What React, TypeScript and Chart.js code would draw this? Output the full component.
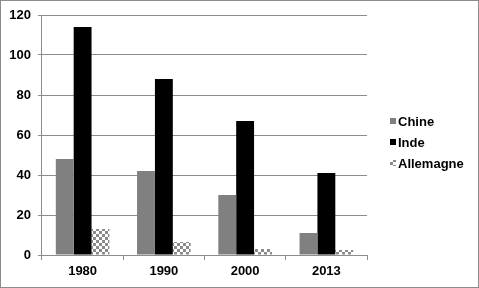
import React, { useEffect, useRef } from "react";
import { Chart, registerables } from "chart.js";

Chart.register(...registerables);

const categories = ["1980", "1990", "2000", "2013"];
const chine = [48, 42, 30, 11];
const inde = [114, 88, 67, 41];
const allemagne = [13, 6.5, 3, 2.5];
const yTicks = [0, 20, 40, 60, 80, 100, 120];

const FONT_FAMILY = "'Liberation Sans', Arial, sans-serif";

function makePattern(): CanvasPattern | string {
  const c = document.createElement("canvas");
  c.width = 6;
  c.height = 6;
  const ctx = c.getContext("2d");
  if (!ctx) return "#999";
  ctx.fillStyle = "#ffffff";
  ctx.fillRect(0, 0, 6, 6);
  ctx.fillStyle = "#8a8a8a";
  ctx.fillRect(0, 0, 3, 3);
  ctx.fillRect(3, 3, 3, 3);
  const p = ctx.createPattern(c, "repeat");
  return p || "#999";
}

export default function App() {
  const ref = useRef<HTMLCanvasElement>(null);
  useEffect(() => {
    document.body.style.margin = "0";
    if (!ref.current) return;
    const pattern = makePattern();
    const borderPlugin = {
      id: "outerBorder",
      afterDraw(chart: any) {
        const ctx = chart.ctx;
        ctx.save();
        ctx.strokeStyle = "#8c8c8c";
        ctx.lineWidth = 1;
        ctx.strokeRect(0.5, 0.5, chart.width - 1, chart.height - 1);
        ctx.restore();
      },
    };
    const legendPlugin = {
      id: "sideLegend",
      afterDraw(chart: any) {
        const ctx = chart.ctx;
        const area = chart.chartArea;
        const sets = chart.data.datasets;
        const x = area.right + 23;
        const midY = chart.height / 2 - 2;
        ctx.save();
        ctx.font = `bold 13px ${FONT_FAMILY}`;
        ctx.textBaseline = "middle";
        ctx.textAlign = "left";
        sets.forEach((ds: any, i: number) => {
          const y = midY + (i - (sets.length - 1) / 2) * 21;
          ctx.fillStyle = ds.backgroundColor;
          ctx.fillRect(x, y - 3, 6, 6);
          ctx.fillStyle = "#000";
          ctx.fillText(ds.label, x + 8, y + 1);
        });
        ctx.restore();
      },
    };
    const font = { family: FONT_FAMILY, size: 13, weight: "bold" as const };
    const chart = new Chart(ref.current, {
      type: "bar",
      data: {
        labels: categories,
        datasets: [
          { label: "Chine", data: chine, backgroundColor: "#808080", borderWidth: 0 },
          { label: "Inde", data: inde, backgroundColor: "#000000", borderWidth: 0 },
          { label: "Allemagne", data: allemagne, backgroundColor: pattern as any, borderWidth: 0 },
        ],
      },
      options: {
        animation: false,
        responsive: false,
        maintainAspectRatio: false,
        layout: { padding: { top: 15, left: 2.3, right: 112, bottom: 4.4 } },
        datasets: { bar: { categoryPercentage: 0.66, barPercentage: 1 } },
        scales: {
          x: {
            grid: { display: true, drawOnChartArea: false, drawTicks: true, tickLength: 5, color: "#8c8c8c", offset: true },
            border: { display: true, color: "#8c8c8c" },
            ticks: { color: "#000", font, padding: 4 },
          },
          y: {
            min: 0,
            max: 120,
            afterBuildTicks: (axis: any) => {
              axis.ticks = yTicks.map((v) => ({ value: v }));
            },
            grid: { color: "#8c8c8c", drawTicks: true, tickLength: 4 },
            border: { display: true, color: "#8c8c8c" },
            ticks: { color: "#000", font, padding: 7 },
          },
        },
        plugins: {
          legend: { display: false },
          tooltip: { enabled: false },
        },
      },
      plugins: [borderPlugin, legendPlugin],
    });
    return () => chart.destroy();
  }, []);
  return <canvas ref={ref} width={479} height={288} style={{ display: "block" }} />;
}
